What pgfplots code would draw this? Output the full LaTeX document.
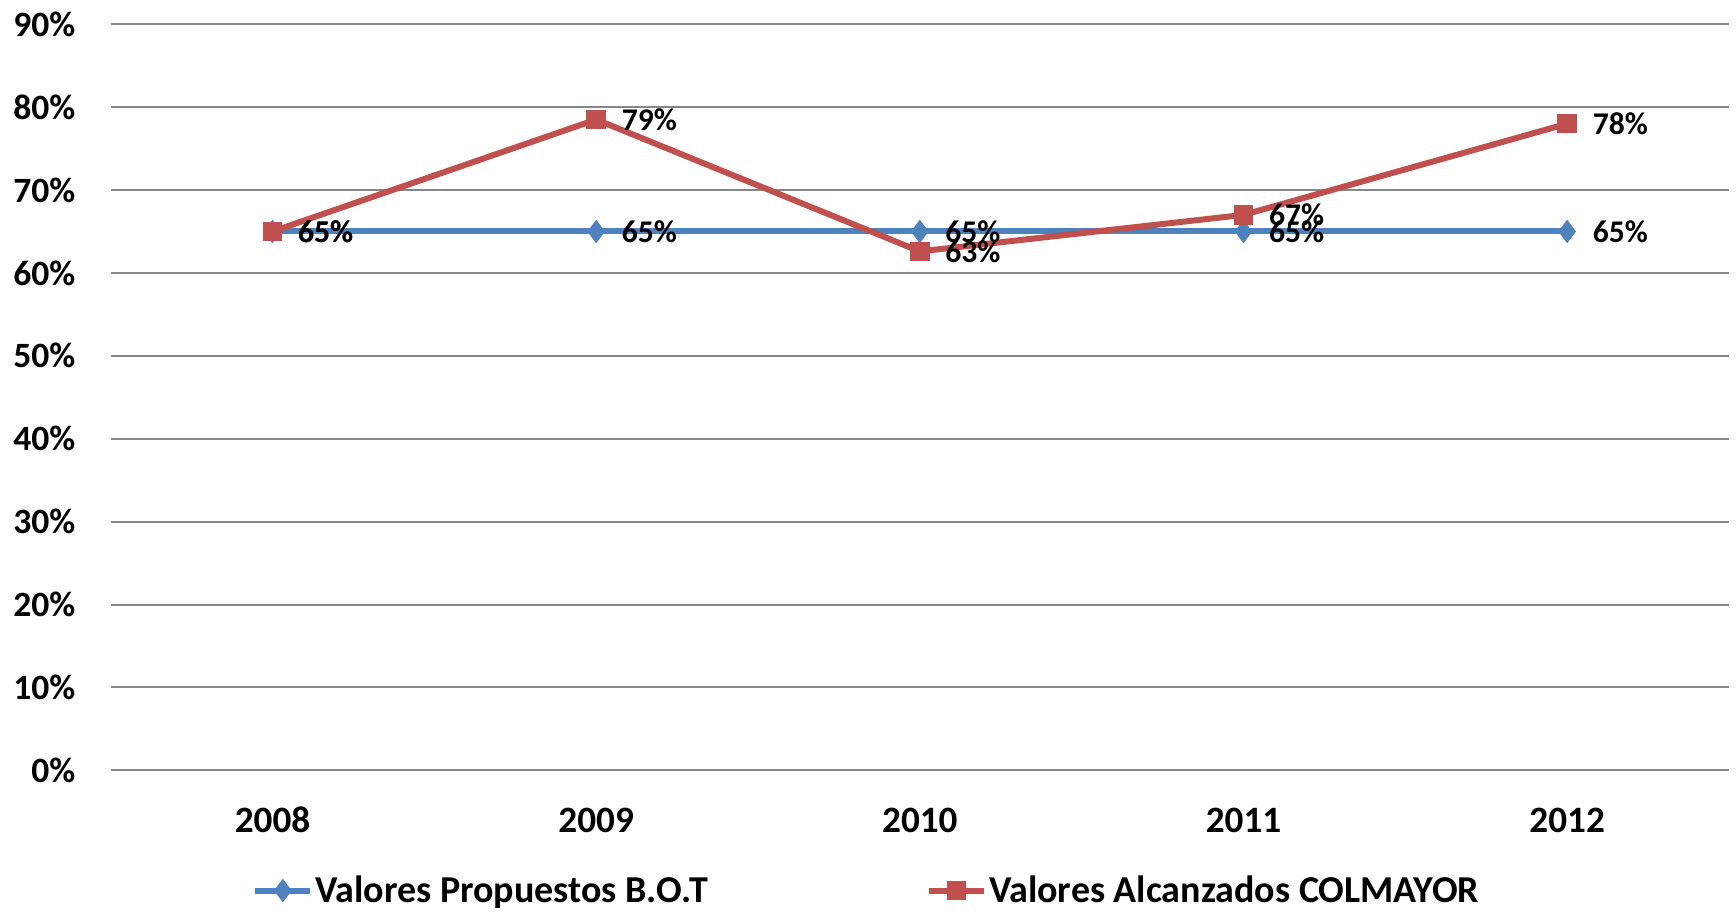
\documentclass[border=0pt]{standalone}
\usepackage{pgfplots}
\pgfplotsset{compat=1.18}
\usepackage{fontspec}
\setmainfont{Carlito}
\definecolor{xlblue}{HTML}{4F81BD}
\definecolor{xlred}{HTML}{C0504D}
\definecolor{xlgrid}{HTML}{868686}
\begin{document}
\begin{tikzpicture}
\useasboundingbox (-55.35pt,-70.7pt) rectangle (812.65pt,385.2pt);
\begin{axis}[
  at={(0,0)}, anchor=south west,
  scale only axis, width=809.15pt, height=373.1pt,
  xmin=-0.5, xmax=4.5, ymin=0, ymax=90,
  xtick={0,1,2,3,4}, xticklabels={2008,2009,2010,2011,2012},
  ytick={0,10,...,90},
  yticklabels={0\%,10\%,20\%,30\%,40\%,50\%,60\%,70\%,80\%,90\%},
  axis line style={draw=none},
  major tick length=0pt,
  ymajorgrids, major grid style={xlgrid, line width=1pt},
  yticklabel style={font=\bfseries\fontsize{17.8}{20}\selectfont, anchor=east, inner sep=0pt, xshift=-17.5pt},
  xticklabel style={font=\bfseries\fontsize{18.6}{20}\selectfont, anchor=center, inner sep=0pt, yshift=-24.9pt},
  clip=false,
  legend columns=2,
  legend style={at={(0.0873,-0.161)}, anchor=west, draw=none, fill=none,
    inner sep=0pt, font=\bfseries\fontsize{19}{21}\selectfont,
    nodes={inner sep=1pt},
    /tikz/every even column/.append style={column sep=108pt}},
  legend image code/.code={\draw[mark repeat=2,mark phase=2] plot coordinates {(0pt,0pt) (13.75pt,0pt) (27.5pt,0pt)};},
  nodes near coords,
  point meta=explicit symbolic,
  every node near coord/.append style={font=\bfseries\fontsize{15.8}{18}\selectfont, anchor=west, inner sep=0pt, xshift=12.5pt, yshift=0pt, text=black},
]
\addplot[xlblue, line width=3pt, mark=diamond*, mark size=5.4pt, mark options={solid, fill=xlblue, draw=xlblue, line width=0.6pt}]
  coordinates {(0,65) [65\%] (1,65) [65\%] (2,65) [65\%] (3,65) [65\%] (4,65) [65\%]};
\addlegendentry{Valores Propuestos B.O.T}
\addplot[xlred, line width=3pt, mark=square*, mark size=4.6pt, mark options={solid, fill=xlred, draw=xlred, line width=0.6pt}]
  coordinates {(0,65) [65\%] (1,78.5) [79\%] (2,62.6) [63\%] (3,67) [67\%] (4,78) [78\%]};
\addlegendentry{Valores Alcanzados COLMAYOR}
\end{axis}
\end{tikzpicture}
\end{document}
